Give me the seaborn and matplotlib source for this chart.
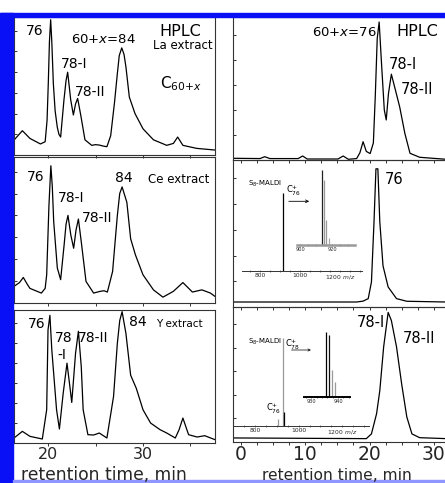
import numpy as np
import pandas as pd
import matplotlib.pyplot as plt
import seaborn as sns
from matplotlib.patches import Rectangle, FancyArrowPatch
from matplotlib.ticker import MultipleLocator

# ==========================================
# DATA
# ==========================================

# left column: HPLC of metal extracts, retention time (min) vs signal (% of panel)
la_time = [16.42, 17.3, 18.1, 19.2, 19.7, 19.9, 20.03, 20.15, 20.28, 20.4, 20.56, 20.75,
           20.98, 21.15, 21.33, 21.68, 21.9, 22.07, 22.39, 22.67, 22.9, 23.12, 23.47,
           23.89, 24.6, 25.0, 25.4, 25.8, 26.2, 26.6, 27.0, 27.3, 27.5, 27.76, 28.0,
           28.2, 28.56, 29.16, 30.0, 31.1, 32.5, 33.2, 33.65, 34.2, 35.65, 37.58]
la_signal = [10.8, 17.6, 12, 8, 9.6, 25, 52, 82, 98, 82, 52, 32,
             20, 15, 13, 40, 54, 60, 40, 29, 37, 41, 28,
             11, 7, 7.5, 7.2, 6.5, 6, 14, 38, 59, 72, 77.6, 73,
             64, 42, 30, 19, 11, 7, 8.4, 13, 7, 4.8, 3.6]

ce_time = [16.42, 17.0, 17.4, 17.8, 18.1, 19.3, 19.7, 19.86, 20.1, 20.3, 20.45, 20.6,
           20.98, 21.33, 21.7, 21.9, 22.1, 22.4, 22.7, 22.95, 23.2, 23.5, 24.0, 24.8,
           25.5, 25.9, 26.25, 26.8, 27.3, 27.55, 27.8, 28.3, 28.7, 29.2, 30.0, 31.1,
           32.1, 33.2, 34.2, 35.2, 36.2, 37.1, 37.58]
ce_signal = [11.4, 14, 17.5, 13, 10, 6.8, 10, 19.3, 67, 94, 80, 55.7,
             24, 16, 40, 54, 60, 46.6, 37.5, 50, 57.5, 42, 14.8, 6.8,
             8, 8.4, 7.5, 21.6, 60, 75, 79.5, 69, 44, 33, 19.3, 9,
             4, 8, 14, 7.5, 9, 6.8, 4.5]

y_time = [16.42, 17.3, 18.1, 19.4, 19.86, 20.0, 20.2, 20.4, 20.9, 21.2, 21.6, 22.0,
          22.3, 22.5, 22.9, 23.2, 23.5, 23.7, 24.2, 24.8, 25.4, 26.2, 26.9, 27.3,
          27.55, 27.8, 28.2, 28.7, 29.3, 30.0, 30.8, 31.8, 32.5, 33.4, 33.8, 34.2,
          34.8, 35.7, 36.5, 37.58]
y_signal = [3.75, 8.75, 5, 3, 25, 85, 96, 70, 25, 10.5, 37.5, 60,
            42.5, 30.5, 67.5, 84, 57.5, 25, 6.25, 6, 7.5, 3.75, 35, 75,
            92, 98.75, 82.5, 51, 41, 25, 15, 10, 7.5, 3.75, 10, 18.75,
            6.25, 4.5, 5.5, 2.5]

# right column: HPLC of the isolated fractions
hplc_time = [-1.24, 2.95, 3.7, 4.5, 8.9, 9.6, 10.3, 15.1, 15.9, 16.7, 18.0, 18.5,
             19.0, 19.5, 20.1, 20.6, 20.9, 21.2, 21.5, 21.9, 22.3, 22.6, 22.95,
             23.4, 24.1, 24.7, 25.5, 26.3, 27.8, 31.9]
hplc_signal = [1.2, 1, 2.3, 1, 1, 2.8, 0.7, 0.7, 2.8, 0.5, 1, 5,
               12.8, 6, 4.5, 12, 45, 85, 96.5, 65, 35, 28, 46.5,
               60, 47.7, 37, 18.6, 4.7, 1.9, 0.5]

c76_time = [-1.24, 18.0, 19.0, 19.8, 20.3, 20.7, 21.0, 21.3, 21.6, 22.1, 22.9, 24.2, 25.8, 31.9]
c76_signal = [3.4, 3.4, 4, 5.7, 17, 58, 94, 94, 58, 28, 13.6, 5.7, 3.9, 3.4]

c78_time = [-1.24, 19.5, 20.3, 21.1, 21.6, 22.2, 22.9, 23.4, 24.2, 25.0, 25.8, 26.6, 27.8, 31.9]
c78_signal = [3, 2.5, 6, 21, 38, 70.5, 96, 90, 70.5, 43, 18.6, 6, 3.2, 2.5]

# MALDI insets: m/z and relative height of sticks
ms76_mz = [912]
ms76_int = [0.765]
ms76_zoom_mz = [913.7, 915.2, 916.4, 917.9]
ms76_zoom_int = [0.99, 0.86, 0.33, 0.09]
ms76_zoom_col = ["#222222", "#999999", "#999999", "#aaaaaa"]

ms78_mz = [903.2, 926.3, 930.9]
ms78_int = [0.073, 0.917, 0.146]
ms78_col = ["#999999", "#999999", "#000000"]
ms78_zoom_mz = [935.6, 936.7, 937.8, 939.0]
ms78_zoom_int = [0.975, 0.93, 0.4, 0.22]
ms78_zoom_col = ["#000000", "#111111", "#999999", "#999999"]

# ==========================================
# FIGURE
# ==========================================

sns.set_theme(style="ticks")
plt.rcParams["font.family"] = ["DejaVu Sans"]
plt.rcParams["mathtext.fontset"] = "dejavusans"

W, H = 445, 483
fig = plt.figure(figsize=(W / 100, H / 100), dpi=100)
fig.patch.set_facecolor("white")


def box(x0, y0, x1, y1):
    return [x0 / W, 1 - y1 / H, (x1 - x0) / W, (y1 - y0) / H]


def label(x, y, s, size, ha="center", **kw):
    # x, y = pixel centre of the ink; shift to baseline
    fig.text(x / W, 1 - (y + 0.5 * size) / H, s, fontsize=size, ha=ha,
             va="baseline", color="black", **kw)


# blue frame
fig.patches.append(Rectangle((0, 0), 13 / W, 1 - 13 / H, transform=fig.transFigure,
                             color="#0a10f5", zorder=0))
fig.patches.append(Rectangle((0, 1 - 17 / H), 1, 4 / H, transform=fig.transFigure,
                             color="#0a10f5", zorder=0))
fig.patches.append(Rectangle((13 / W, 1 - 482 / H), 1, 1.6 / H, transform=fig.transFigure,
                             color="#8f96ff", zorder=0))


def chrom(rect, t, s, xlim, right=False):
    ax = fig.add_axes(box(*rect))
    ax.set_facecolor("none")
    sns.lineplot(x=t, y=s, ax=ax, color="black", lw=0.9, estimator=None, sort=False)
    ax.set_xlim(*xlim)
    ax.set_ylim(0, 100)
    ax.set_xlabel("")
    ax.set_ylabel("")
    for sp in ax.spines.values():
        sp.set_color("#333333")
        sp.set_linewidth(0.8)
    if right:
        ax.spines["right"].set_visible(False)
        ax.xaxis.set_major_locator(MultipleLocator(10))
        ax.xaxis.set_minor_locator(MultipleLocator(2.5))
        ax.yaxis.set_major_locator(MultipleLocator(17.5))
    else:
        ax.xaxis.set_major_locator(MultipleLocator(10))
        ax.xaxis.set_minor_locator(MultipleLocator(5))
        ax.yaxis.set_major_locator(MultipleLocator(15))
    ax.tick_params(axis="x", which="both", direction="out", length=2, width=0.7,
                   color="#333333", labelbottom=False)
    ax.tick_params(axis="y", which="both", direction="in", length=2.5, width=0.7,
                   color="#333333", labelleft=False)
    return ax


left_lim = (16.42, 37.58)
right_lim = (-1.24, 31.9)

axL1 = chrom((14, 17, 215, 155), la_time, la_signal, left_lim)
axL2 = chrom((14, 157, 215, 303), ce_time, ce_signal, left_lim)
axL3 = chrom((14, 310, 215, 443), y_time, y_signal, left_lim)
axR1 = chrom((233, 17, 446, 160), hplc_time, hplc_signal, right_lim, right=True)
axR2 = chrom((233, 160, 446, 307), c76_time, c76_signal, right_lim, right=True)
axR3 = chrom((233, 307, 446, 442), c78_time, c78_signal, right_lim, right=True)

axL3.set_xticks([20, 30])
axL3.tick_params(axis="x", labelbottom=True, labelsize=11.5, pad=1.2)
axR3.set_xticks([0, 10, 20, 30])
axR3.tick_params(axis="x", labelbottom=True, labelsize=13.5, pad=0.5)

# axis titles at the bottom edge
fig.text(104 / W, 1 - 479.5 / H, "retention time, min", fontsize=12.3, ha="center", va="baseline")
fig.text(337 / W, 1 - 479.5 / H, "retention time, min", fontsize=11.2, ha="center", va="baseline")

# peak labels, left column
label(35, 30, "76", 10)
label(74.5, 62.5, "78-I", 10)
label(90, 91, "78-II", 10)
label(103, 38.7, r"$\mathit{60{+}x}$=84", 9.5)
label(180, 30.3, "HPLC", 11.5)
label(182.5, 45, "La extract", 8.5)
label(181, 83, r"C$_{\mathit{60{+}x}}$", 11)

label(35.8, 175.8, "76", 10)
label(71.3, 197, "78-I", 10)
label(97.5, 217.5, "78-II", 10)
label(124.2, 177.5, "84", 10)
label(178.3, 178.3, "Ce extract", 8.5)

label(36.7, 322.5, "76", 10)
label(63.3, 337.5, "78", 10)
label(61.7, 354, "-I", 10)
label(93.3, 337.5, "78-II", 10)
label(137.5, 321, "84", 10)
label(179, 323.3, "Y extract", 7.5)

# peak labels, right column
label(344.7, 30.8, r"$\mathit{60{+}x}$=76", 9.5)
label(417, 30.5, "HPLC", 11.5)
label(402.5, 63.3, "78-I", 10.5)
label(416.7, 88.3, "78-II", 10.5)
label(394, 178.7, "76", 10.5)
label(370.8, 321.7, "78-I", 10.5)
label(419, 337.5, "78-II", 10.5)


def spectrum(rect, mz, inten, cols, xlim, ticks, labels, size, base_col="#333333",
             base_lw=0.7, minor=None):
    ax = fig.add_axes(box(*rect))
    ax.set_facecolor("none")
    ax.vlines(mz, 0, inten, colors=cols, lw=0.9)
    ax.set_xlim(*xlim)
    ax.set_ylim(0, 1)
    for side in ["top", "left", "right"]:
        ax.spines[side].set_visible(False)
    ax.spines["bottom"].set_color(base_col)
    ax.spines["bottom"].set_linewidth(base_lw)
    ax.set_yticks([])
    ax.set_xticks(ticks)
    ax.set_xticklabels(labels)
    if minor:
        ax.xaxis.set_minor_locator(MultipleLocator(minor))
    ax.tick_params(axis="x", which="both", direction="inout", length=1.6, width=0.5,
                   color="#444444", labelsize=size, pad=0.6)
    return ax


# C76 fraction
spectrum((242, 169, 362, 271.3), ms76_mz, ms76_int, ["black"], (708.5, 1308.5),
         [800, 1000, 1200], ["800", "1000", r"1200 $m/z$"], 4.3, minor=50)
spectrum((297, 169, 355.3, 245), ms76_zoom_mz, ms76_zoom_int, ms76_zoom_col,
         (897.9, 934.7), [900, 920], ["900", "920"], 3.6, base_col="#999999",
         base_lw=1.8, minor=5)
label(264.5, 183, r"S$_8$-MALDI", 5)
label(293.5, 190, r"C$_{76}^{+}$", 6)
fig.add_artist(FancyArrowPatch(
    (286 / W, 1 - 201.3 / H), (312 / W, 1 - 201.3 / H), transform=fig.transFigure,
    arrowstyle="->", mutation_scale=5, lw=0.6, color="black"))

# C78 fraction
spectrum((234, 330, 368.7, 426), ms78_mz, ms78_int, ms78_col, (701.8, 1322.6),
         [800, 1000, 1200], ["800", "1000", r"1200 $m/z$"], 4.3, minor=50)
spectrum((303.7, 330, 350.3, 397.3), ms78_zoom_mz, ms78_zoom_int, ms78_zoom_col,
         (927.2, 944.6), [930, 940], ["930", "940"], 3.6, base_col="black",
         base_lw=1.4, minor=2)
label(264.5, 341.7, r"S$_8$-MALDI", 5)
label(292.5, 344, r"C$_{78}^{+}$", 6)
label(273, 408, r"C$_{76}^{+}$", 6)
fig.add_artist(FancyArrowPatch(
    (288.7 / W, 1 - 350 / H), (313.7 / W, 1 - 350 / H), transform=fig.transFigure,
    arrowstyle="->", mutation_scale=4, lw=0.5, color="black"))

fig.savefig("out.png", dpi=100)
